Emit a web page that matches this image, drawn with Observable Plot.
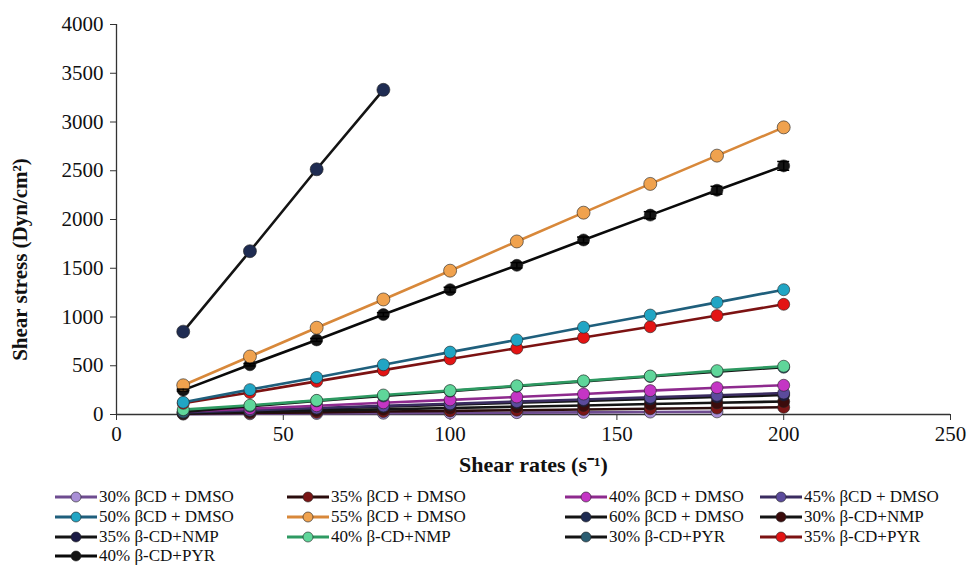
<!DOCTYPE html>
<html><head><meta charset="utf-8">
<script src="https://cdn.jsdelivr.net/npm/d3@7"></script>
<script src="https://cdn.jsdelivr.net/npm/@observablehq/plot@0.6"></script>
<style>
body{margin:0;background:#fff;font-family:"Liberation Serif","Times New Roman",serif;}
#wrap{position:relative;width:971px;height:567px;overflow:hidden;}
#legend{position:absolute;left:0;top:488px;width:971px;height:79px;}
.item{position:absolute;display:flex;align-items:center;height:18px;font-size:17px;line-height:18px;color:#111;white-space:nowrap;}
.item svg{margin-right:2px;}
</style></head><body><div id="wrap"><div id="chart"></div><div id="legend"></div></div>
<script>
// ---- data ----
const shearRates = [20, 40, 60, 80, 100, 120, 140, 160, 180, 200];
const seriesNames = [
  "30% βCD + DMSO", "35% βCD + DMSO", "40% βCD + DMSO", "45% βCD + DMSO",
  "50% βCD + DMSO", "55% βCD + DMSO", "60% βCD + DMSO", "30% β-CD+NMP",
  "35% β-CD+NMP", "40% β-CD+NMP", "30% β-CD+PYR", "35% β-CD+PYR",
  "40% β-CD+PYR"
];
const dmso30 = [4, 7, 10, 13, 16, 19, 22, 25, 27];
const dmso35 = [8, 15, 22, 30, 37, 44, 52, 59, 66, 74];
const dmso40 = [30, 60, 90, 120, 150, 180, 210, 245, 275, 300];
const dmso45 = [22, 44, 66, 88, 110, 132, 154, 176, 198, 220];
const dmso50 = [125, 255, 380, 510, 640, 765, 895, 1020, 1150, 1280];
const dmso55 = [300, 595, 890, 1180, 1475, 1775, 2070, 2365, 2655, 2945];
const dmso60 = [850, 1675, 2515, 3330];
const nmp30 = [13, 27, 40, 53, 67, 80, 93, 107, 120, 134];
const nmp35 = [20, 40, 60, 80, 100, 120, 140, 160, 180, 200];
const nmp40 = [50, 95, 145, 200, 245, 295, 345, 395, 450, 495];
const pyr30 = [25, 85, 140, 190, 240, 290, 340, 390, 440, 485];
const pyr35 = [115, 225, 340, 455, 570, 680, 790, 900, 1015, 1130];
const pyr40 = [250, 510, 765, 1025, 1280, 1530, 1790, 2045, 2300, 2550];
const pyr40Err = [10, 12, 15, 20, 25, 28, 30, 35, 40, 45];
const xTicks = [0, 50, 100, 150, 200, 250];
const yTicks = [0, 500, 1000, 1500, 2000, 2500, 3000, 3500, 4000];
const markerColors = ["#a98fd6", "#7a1616", "#c435c4", "#5b4b9c", "#21a5c4", "#f0a24e", "#1f2c52",
  "#3b0c0c", "#1a1a44", "#5fd69a", "#2b5d72", "#e31414", "#141414"];
const lineColors = ["#6e4c90", "#2a0c0c", "#8e2a8e", "#3a2c60", "#1f5f7c", "#d8883a", "#141414",
  "#141414", "#141414", "#2e9a62", "#141414", "#7c1212", "#0a0a0a"];
const seriesValues = [dmso30, dmso35, dmso40, dmso45, dmso50, dmso55, dmso60,
  nmp30, nmp35, nmp40, pyr30, pyr35, pyr40];
const drawOrder = [0, 1, 7, 8, 3, 2, 10, 9, 11, 4, 12, 5, 6];

const rows = [];
drawOrder.forEach((si, k) => {
  seriesValues[si].forEach((v, j) => rows.push({
    order: k, series: seriesNames[si], x: shearRates[j], y: v,
    line: lineColors[si], fill: markerColors[si]
  }));
});
const errRows = pyr40.map((v, j) => ({x: shearRates[j], y: v, e: pyr40Err[j]}));

const font = '"Liberation Serif","Times New Roman",serif';
const plot = Plot.plot({
  width: 971, height: 488,
  marginLeft: 116, marginRight: 21, marginTop: 24, marginBottom: 74,
  style: {fontFamily: font, fontSize: "21px", color: "#111", background: "#fff", overflow: "visible"},
  x: {domain: [0, 250]},
  y: {domain: [0, 4000]},
  color: {type: "identity"},
  marks: [
    Plot.axisX({ticks: xTicks, tickFormat: d => String(d), tickSize: 6, tickPadding: 6, label: null, stroke: "#333", fontSize: 21}),
    Plot.axisY({ticks: yTicks, tickFormat: d => String(d), tickSize: 6, tickPadding: 7, label: null, stroke: "#333", fontSize: 21}),
    Plot.ruleY([0], {stroke: "#333", strokeWidth: 1.3}),
    Plot.ruleX([0], {stroke: "#333", strokeWidth: 1.3}),
    ...drawOrder.map((si, k) => [
      Plot.line(rows.filter(d => d.order === k), {x: "x", y: "y", stroke: "line", strokeWidth: 2.6}),
      Plot.dot(rows.filter(d => d.order === k), {x: "x", y: "y", fill: "fill", r: si === 6 || si === 5 ? 6.5 : 6, stroke: "#222", strokeWidth: 1, strokeOpacity: 0.6})
    ]).flat(),
    Plot.ruleX(errRows, {x: "x", y1: d => d.y - d.e, y2: d => d.y + d.e, stroke: "#000", strokeWidth: 1.5}),
    Plot.ruleY(errRows, {y: d => d.y + d.e, x1: d => d.x - 1.8, x2: d => d.x + 1.8, stroke: "#000", strokeWidth: 1.5}),
    Plot.ruleY(errRows, {y: d => d.y - d.e, x1: d => d.x - 1.8, x2: d => d.x + 1.8, stroke: "#000", strokeWidth: 1.5}),
    Plot.text(["Shear rates (s⁻¹)"], {frameAnchor: "bottom", dy: 57, textAnchor: "middle", fontWeight: "bold", fontSize: 22, fill: "#111"}),
    Plot.text(["Shear stress (Dyn/cm²)"], {frameAnchor: "left", dx: -96, dy: 40, textAnchor: "middle", rotate: -90, fontWeight: "bold", fontSize: 21, fill: "#111"})
  ]
});
document.getElementById("chart").appendChild(plot);

// ---- legend ----
const colLeft = [55, 287, 565, 760];
const rowTop = [0, 20, 40, 59];
const legend = document.getElementById("legend");
seriesNames.forEach((name, i) => {
  const div = document.createElement("div");
  div.className = "item";
  div.style.left = colLeft[i % 4] + "px";
  div.style.top = rowTop[Math.floor(i / 4)] + "px";
  div.innerHTML = `<svg width="42" height="14"><line x1="0" y1="7" x2="42" y2="7" stroke="${lineColors[i]}" stroke-width="3"/><circle cx="21" cy="7" r="5" fill="${markerColors[i]}" stroke="#222" stroke-opacity="0.6"/></svg><span>${name}</span>`;
  legend.appendChild(div);
});
</script>
</body></html>
